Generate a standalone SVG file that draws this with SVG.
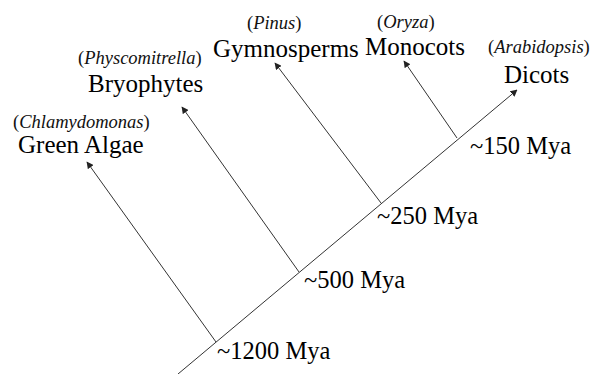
<svg xmlns="http://www.w3.org/2000/svg" width="590" height="374" viewBox="0 0 590 374">
<defs>
<marker id="ah" viewBox="0 0 10 10" refX="9" refY="5" markerWidth="7" markerHeight="7" markerUnits="userSpaceOnUse" orient="auto">
<path d="M0,0 L10,5 L0,10 z" fill="#222"/>
</marker>
<style>
.ln{stroke:#333;stroke-width:1;fill:none;marker-end:url(#ah)}
.big{font-family:"Liberation Serif","Times New Roman",serif;font-size:25px;fill:#000}
.tm{font-family:"Liberation Serif","Times New Roman",serif;font-size:24.5px;fill:#000}
.sp{font-family:"Liberation Serif","Times New Roman",serif;font-size:18.5px;font-style:italic;fill:#111}
.up{font-style:normal}
</style>
</defs>
<rect width="590" height="374" fill="#fff"/>
<g id="connectors">
<line class="ln" x1="178" y1="374" x2="517" y2="90"/>
<line class="ln" x1="216" y1="342" x2="87" y2="162"/>
<line class="ln" x1="299" y1="272" x2="182" y2="107"/>
<line class="ln" x1="381" y1="203" x2="275" y2="63"/>
<line class="ln" x1="457" y1="138" x2="404" y2="61"/>
</g>
<g id="green-algae">
<text class="sp" x="13" y="128"><tspan class="up">(</tspan>Chlamydomonas<tspan class="up">)</tspan></text>
<text class="big" x="18" y="153">Green Algae</text>
</g>
<g id="bryophytes">
<text class="sp" x="78" y="64"><tspan class="up">(</tspan>Physcomitrella<tspan class="up">)</tspan></text>
<text class="big" x="88" y="92">Bryophytes</text>
</g>
<g id="gymnosperms">
<text class="sp" x="247" y="29"><tspan class="up">(</tspan>Pinus<tspan class="up">)</tspan></text>
<text class="big" x="213" y="57">Gymnosperms</text>
</g>
<g id="monocots">
<text class="sp" x="377" y="28"><tspan class="up">(</tspan>Oryza<tspan class="up">)</tspan></text>
<text class="big" x="365" y="55">Monocots</text>
</g>
<g id="dicots">
<text class="sp" x="488" y="53"><tspan class="up">(</tspan>Arabidopsis<tspan class="up">)</tspan></text>
<text class="big" x="504" y="83">Dicots</text>
</g>
<g id="times">
<text class="tm" x="470" y="154">~150 Mya</text>
<text class="tm" x="377" y="224">~250 Mya</text>
<text class="tm" x="304" y="288">~500 Mya</text>
<text class="tm" x="217" y="359">~1200 Mya</text>
</g>
</svg>
